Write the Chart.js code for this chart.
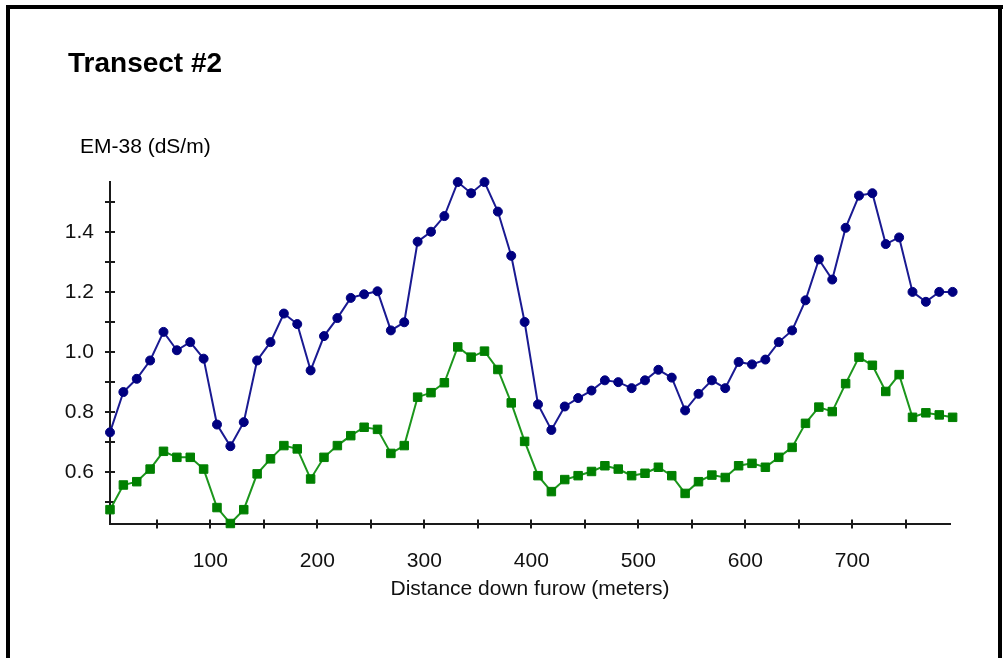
<!DOCTYPE html>
<html><head><meta charset="utf-8">
<script src="https://cdn.jsdelivr.net/npm/chart.js@4.4.1/dist/chart.umd.min.js"></script>
<style>
html,body{margin:0;padding:0;background:#fff;width:1003px;height:658px;overflow:hidden;}
#wrap{position:relative;width:1003px;height:658px;}
canvas{position:absolute;left:0;top:0;}
.frame{position:absolute;background:#000;}
#title{position:absolute;left:68px;top:46.7px;font:bold 28px "Liberation Sans",Arial,sans-serif;line-height:normal;color:#000;white-space:nowrap;}
#ylab{position:absolute;left:80px;top:134.3px;font:21px "Liberation Sans",Arial,sans-serif;line-height:normal;color:#000;white-space:nowrap;}
</style></head>
<body><div id="wrap">
<div class="frame" style="left:6px;top:5px;width:997px;height:4px"></div>
<div class="frame" style="left:6px;top:5px;width:4px;height:653px"></div>
<div class="frame" style="left:998px;top:5px;width:4px;height:653px"></div>
<canvas id="c" width="1003" height="658"></canvas>
<div id="title">Transect #2</div>
<div id="ylab">EM-38 (dS/m)</div>
</div>
<script>
const distances = [6.25, 18.75, 31.25, 43.75, 56.25, 68.75, 81.25, 93.75, 106.25, 118.75, 131.25, 143.75, 156.25, 168.75, 181.25, 193.75, 206.25, 218.75, 231.25, 243.75, 256.25, 268.75, 281.25, 293.75, 306.25, 318.75, 331.25, 343.75, 356.25, 368.75, 381.25, 393.75, 406.25, 418.75, 431.25, 443.75, 456.25, 468.75, 481.25, 493.75, 506.25, 518.75, 531.25, 543.75, 556.25, 568.75, 581.25, 593.75, 606.25, 618.75, 631.25, 643.75, 656.25, 668.75, 681.25, 693.75, 706.25, 718.75, 731.25, 743.75, 756.25, 768.75, 781.25, 793.75];
const seriesBlue = [0.733, 0.867, 0.911, 0.972, 1.067, 1.006, 1.033, 0.978, 0.759, 0.687, 0.767, 0.972, 1.033, 1.128, 1.093, 0.939, 1.053, 1.113, 1.180, 1.192, 1.202, 1.072, 1.099, 1.367, 1.400, 1.452, 1.565, 1.528, 1.565, 1.467, 1.320, 1.100, 0.826, 0.741, 0.819, 0.847, 0.872, 0.906, 0.900, 0.880, 0.906, 0.941, 0.915, 0.806, 0.861, 0.906, 0.880, 0.967, 0.959, 0.975, 1.033, 1.072, 1.172, 1.308, 1.241, 1.413, 1.520, 1.528, 1.359, 1.381, 1.200, 1.167, 1.200, 1.200];
const seriesGreen = [0.476, 0.558, 0.569, 0.611, 0.670, 0.650, 0.650, 0.611, 0.483, 0.430, 0.476, 0.595, 0.645, 0.689, 0.678, 0.578, 0.650, 0.689, 0.722, 0.750, 0.743, 0.663, 0.689, 0.850, 0.865, 0.898, 1.017, 0.983, 1.003, 0.942, 0.831, 0.703, 0.589, 0.536, 0.576, 0.589, 0.603, 0.622, 0.611, 0.589, 0.597, 0.617, 0.589, 0.530, 0.569, 0.591, 0.583, 0.622, 0.630, 0.617, 0.650, 0.683, 0.763, 0.817, 0.802, 0.895, 0.983, 0.956, 0.869, 0.925, 0.783, 0.798, 0.791, 0.783];
const xTicks = [50, 100, 150, 200, 250, 300, 350, 400, 450, 500, 550, 600, 650, 700, 750];
const xLabels = [100, 200, 300, 400, 500, 600, 700];
const yTicks = [0.5, 0.6, 0.7, 0.8, 0.9, 1.0, 1.1, 1.2, 1.3, 1.4, 1.5];
const yLabels = [0.6, 0.8, 1.0, 1.2, 1.4];

const FONT = '"Liberation Sans", Arial, sans-serif';

const crossTicks = {
  id: 'crossTicks',
  beforeDatasetsDraw(chart) {
    const ctx = chart.ctx, xs = chart.scales.x, ys = chart.scales.y;
    ctx.save();
    ctx.strokeStyle = '#1a1a1a';
    ctx.lineWidth = 2;
    ctx.beginPath();
    xs.ticks.forEach(t => {
      const px = Math.round(xs.getPixelForValue(t.value));
      ctx.moveTo(px, ys.bottom - 4); ctx.lineTo(px, ys.bottom + 5);
    });
    ys.ticks.forEach(t => {
      const py = Math.round(ys.getPixelForValue(t.value));
      ctx.moveTo(xs.left - 5, py); ctx.lineTo(xs.left + 5, py);
    });
    ctx.stroke();
    ctx.restore();
  }
};

const toPoints = ys => distances.map((d, i) => ({x: d, y: ys[i]}));

new Chart(document.getElementById('c'), {
  type: 'line',
  data: {
    datasets: [
      {label: 'Series 1', data: toPoints(seriesBlue), borderColor: '#1a1a92', borderWidth: 2,
       pointStyle: 'circle', pointRadius: 4.5, pointBackgroundColor: '#000080', pointBorderColor: '#000080', pointBorderWidth: 1, tension: 0, clip: false},
      {label: 'Series 2', data: toPoints(seriesGreen), borderColor: '#1c961c', borderWidth: 2,
       pointStyle: 'rect', pointRadius: 6, pointBackgroundColor: '#008000', pointBorderColor: '#008000', pointBorderWidth: 1, tension: 0, clip: false}
    ]
  },
  options: {
    responsive: false,
    animation: false,
    devicePixelRatio: 1,
    layout: {padding: {left: 50, top: 181.5, right: 53, bottom: 52.5}},
    plugins: {legend: {display: false}, tooltip: {enabled: false}},
    scales: {
      x: {
        type: 'linear', min: 6.25, max: 791.3,
        afterBuildTicks: s => { s.ticks = xTicks.map(v => ({value: v})); },
        afterFit: s => { s.height = 82; },
        grid: {display: false},
        border: {display: true, color: '#1a1a1a', width: 2},
        ticks: {autoSkip: false, maxRotation: 0, padding: 17, color: '#111', font: {family: FONT, size: 21},
                callback: v => xLabels.includes(v) ? String(v) : ''},
        title: {display: true, text: 'Distance down furow (meters)', color: '#111', font: {family: FONT, size: 21}, padding: {top: 0, bottom: 4}}
      },
      y: {
        type: 'linear', min: 0.43, max: 1.567,
        afterBuildTicks: s => { s.ticks = yTicks.map(v => ({value: v})); },
        afterFit: s => { s.width = 60; },
        grid: {display: false},
        border: {display: true, color: '#1a1a1a', width: 2},
        ticks: {autoSkip: false, padding: 8, color: '#111', font: {family: FONT, size: 21},
                callback: v => yLabels.some(l => Math.abs(l - v) < 1e-9) ? v.toFixed(1) : ''}
      }
    }
  },
  plugins: [crossTicks]
});
</script>
</body></html>
